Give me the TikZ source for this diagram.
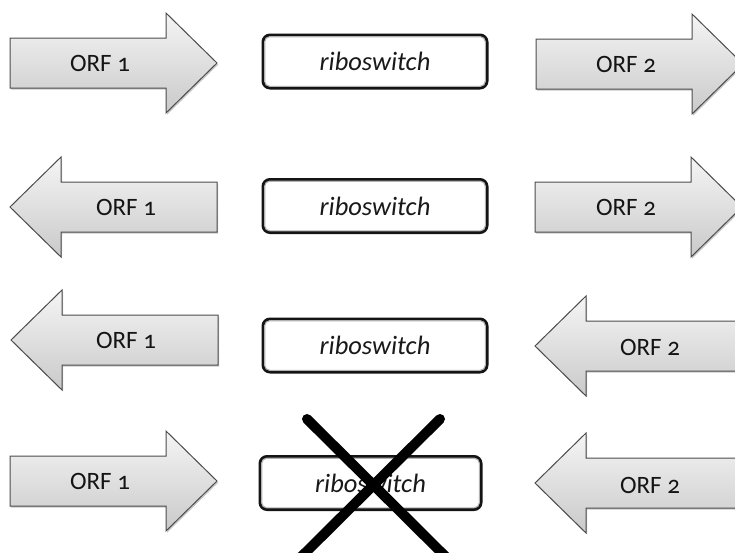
\documentclass[tikz,border=0pt]{standalone}
\usepackage{fontspec}
\setmainfont{Carlito}[Numbers=OldStyle]
\usetikzlibrary{shadows}

\tikzset{
  orf/.style={draw=black!70, line width=1pt, top color=gray!8, bottom color=gray!42,
    drop shadow={shadow xshift=1.2pt, shadow yshift=-1.6pt, opacity=0.22, fill=black}},
  orflabel/.style={font=\fontsize{25}{30}\selectfont, text=black!92, inner sep=0pt},
  ribobox/.style={draw=black!92, line width=3pt, rounded corners=7pt, fill=white,
    minimum width=224pt, minimum height=53pt, inner sep=0pt,
    font=\fontsize{26.5}{31}\selectfont\itshape, text=black!90},
  riboinner/.style={draw=gray!60, line width=1.1pt, rounded corners=5pt},
  crossline/.style={line width=10pt, line cap=round, black}
}

% arrow pointing right: tail x, centre y
\newcommand\rightorf[2]{%
  \path[orf] (#1,#2-25) -- ++(156,0) -- ++(0,-25) -- ++(51,50) -- ++(-51,50)
    -- ++(0,-25) -- ++(-156,0) -- cycle;}
% arrow pointing left: tip x, centre y
\newcommand\leftorf[2]{%
  \path[orf] (#1,#2) -- ++(51,-50) -- ++(0,25) -- ++(156,0) -- ++(0,50)
    -- ++(-156,0) -- ++(0,25) -- cycle;}
% thin inner rim of a riboswitch box
\newcommand\riborim[1]{%
  \draw[riboinner] ([shift={(3.2,3.2)}]#1.north west) rectangle ([shift={(-3.2,-3.2)}]#1.south east);}

\begin{document}
\begin{tikzpicture}[x=1pt, y=-1pt]
  \useasboundingbox (0,0) rectangle (735,552);
  \clip (0,0) rectangle (735,552);

  % row 1
  \rightorf{10}{63}
  \node[orflabel] (orfA1) at (100,63) {ORF 1};
  \node[ribobox] (rsA) at (375,61.5) {riboswitch};
  \riborim{rsA}
  \rightorf{536}{64}
  \node[orflabel] (orfA2) at (626,64) {ORF 2};

  % row 2
  \leftorf{10}{207}
  \node[orflabel] (orfB1) at (126,207) {ORF 1};
  \node[ribobox] (rsB) at (375,206) {riboswitch};
  \riborim{rsB}
  \rightorf{535}{207}
  \node[orflabel] (orfB2) at (626,207) {ORF 2};

  % row 3
  \leftorf{11}{340}
  \node[orflabel] (orfC1) at (126,340) {ORF 1};
  \node[ribobox] (rsC) at (375,345.5) {riboswitch};
  \riborim{rsC}
  \leftorf{535}{346}
  \node[orflabel] (orfC2) at (650,347) {ORF 2};

  % row 4
  \rightorf{10}{481}
  \node[orflabel] (orfD1) at (100,481) {ORF 1};
  \node[ribobox, minimum width=221pt] (rsD) at (370.5,483) {riboswitch};
  \riborim{rsD}
  \leftorf{535}{483}
  \node[orflabel] (orfD2) at (650,485) {ORF 2};

  % crossed-out riboswitch
  \coordinate (xa) at (307,419);
  \coordinate (xb) at (449,560);
  \coordinate (xc) at (440,419);
  \coordinate (xd) at (298,560);
  \draw[crossline] (xa) -- (xb);
  \draw[crossline] (xc) -- (xd);
\end{tikzpicture}
\end{document}
